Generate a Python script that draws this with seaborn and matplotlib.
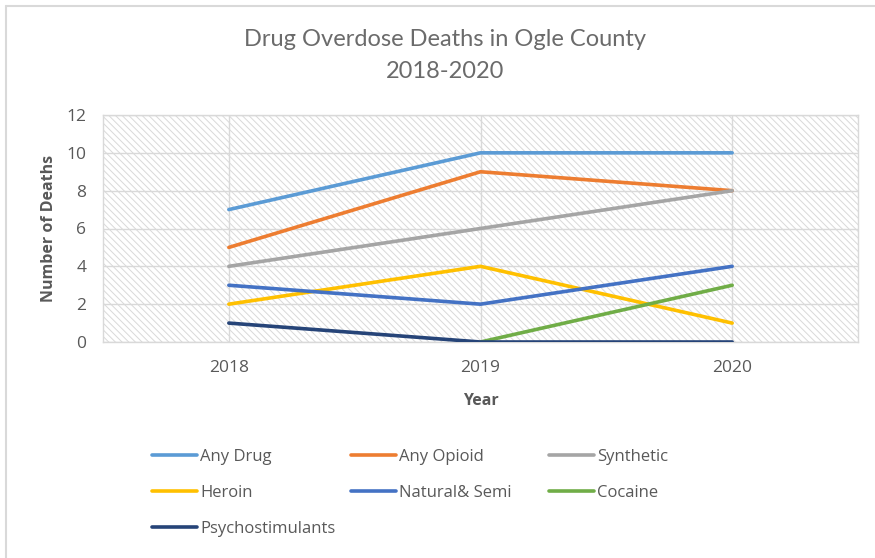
import seaborn as sns
import matplotlib.pyplot as plt
import pandas as pd
import numpy as np
from matplotlib.patches import Rectangle
from matplotlib.lines import Line2D

# data
years = [2018, 2019, 2020]
any_drug = [7, 10, 10]
any_opioid = [5, 9, 8]
synthetic = [4, 6, 8]
heroin = [2, 4, 1]
natural_semi = [3, 2, 4]
cocaine = [np.nan, 0, 3]
psychostimulants = [1, 0, 0]

series = {
    'Any Drug': any_drug,
    'Any Opioid': any_opioid,
    'Synthetic': synthetic,
    'Heroin': heroin,
    'Natural& Semi': natural_semi,
    'Cocaine': cocaine,
    'Psychostimulants': psychostimulants,
}
colors = {
    'Any Drug': '#5B9BD5',
    'Any Opioid': '#ED7D31',
    'Synthetic': '#A5A5A5',
    'Heroin': '#FFC000',
    'Natural& Semi': '#4472C4',
    'Cocaine': '#70AD47',
    'Psychostimulants': '#264478',
}

df = pd.DataFrame([
    {'Year': y, 'Deaths': v, 'Drug': name}
    for name, vals in series.items()
    for y, v in zip(years, vals)
])

sns.set_style('white')
plt.rcParams['font.family'] = ['Open Sans', 'DejaVu Sans']
plt.rcParams['hatch.color'] = '#d9d9d9'
plt.rcParams['hatch.linewidth'] = 0.7

text_gray = '#595959'
grid_gray = '#d9d9d9'

fig = plt.figure(figsize=(8.75, 5.58), dpi=100)
ax = fig.add_axes([103 / 875, 1 - 342 / 558, (858 - 103) / 875, (342 - 115) / 558])

# hatched plot area like the Excel pattern fill
ax.add_patch(Rectangle((0, 0), 1, 1, transform=ax.transAxes, facecolor='white',
                       edgecolor='#d9d9d9', hatch='\\' * 5, lw=0, zorder=0))

sns.lineplot(data=df, x='Year', y='Deaths', hue='Drug', palette=colors,
             hue_order=list(series.keys()), linewidth=2.6, ax=ax,
             legend=False, zorder=3)
for ln in ax.get_lines():
    ln.set_solid_capstyle('round')

ax.set_xlim(2017.5, 2020.5)
ax.set_ylim(0, 12)
ax.set_yticks(range(0, 13, 2))
ax.set_xticks(years)
ax.set_xticklabels([str(y) for y in years])
ax.grid(True, color=grid_gray, lw=1, zorder=1)
ax.set_axisbelow(True)
for s in ax.spines.values():
    s.set_color(grid_gray)
    s.set_linewidth(1)
ax.tick_params(axis='both', length=0, labelsize=12.5, colors=text_gray)
ax.tick_params(axis='x', pad=13)
ax.tick_params(axis='y', pad=12)

ax.set_xlabel('Year', fontsize=11.5, fontweight='bold', color=text_gray, labelpad=12)
ax.set_ylabel('Number of Deaths', fontsize=11.5, fontweight='bold', color=text_gray, labelpad=7)

title_font = ['Lato', 'DejaVu Sans']
fig.text(445 / 875, 1 - 40 / 558, 'Drug Overdose Deaths in Ogle County',
         ha='center', va='center', fontsize=17, color='#6b6b6b', family=title_font)
fig.text(445 / 875, 1 - 72 / 558, '2018-2020',
         ha='center', va='center', fontsize=17, color='#6b6b6b', family=title_font)

# legend laid out row by row in three fixed columns
cols = [['Any Drug', 'Heroin', 'Psychostimulants'],
        ['Any Opioid', 'Natural& Semi'],
        ['Synthetic', 'Cocaine']]
col_x = [152, 351, 549]
for names, x in zip(cols, col_x):
    handles = [Line2D([], [], color=colors[n], lw=2.6, solid_capstyle='round') for n in names]
    fig.legend(handles, names, loc='upper left', bbox_to_anchor=(x / 875, 1 - 449 / 558),
               frameon=False, fontsize=12, labelcolor=text_gray,
               handlelength=2.7, handletextpad=0.2, labelspacing=1.2,
               borderpad=0, borderaxespad=0)

# chart border (top and left visible)
fig.add_artist(Line2D([6 / 875, 1], [1 - 6 / 558] * 2, color='#d9d9d9', lw=1.5))
fig.add_artist(Line2D([6 / 875] * 2, [0, 1 - 6 / 558], color='#d9d9d9', lw=1.5))

fig.savefig('out.png', dpi=100)
